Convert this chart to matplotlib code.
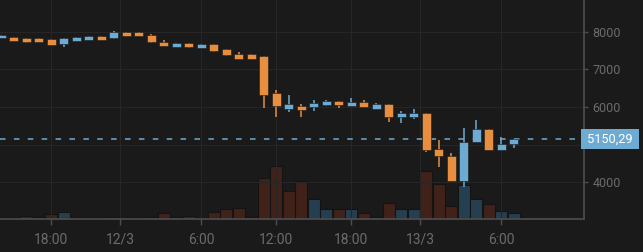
import matplotlib
matplotlib.use("Agg")
import matplotlib.pyplot as plt
import matplotlib.transforms as mtransforms
import numpy as np

plt.rcParams['font.family'] = ['Roboto', 'DejaVu Sans']
plt.rcParams['lines.scale_dashes'] = False

# hourly candles, hours counted from 12/3 00:00
first_hour = -10
opens  = [7825, 7851, 7825, 7825, 7798, 7681, 7761, 7787, 7886, 7825,
          7992, 7992, 7920, 7726, 7594, 7692, 7559, 7665, 7532, 7400,
          7400, 7363, 6372, 5955, 6034, 5992, 6053, 6167, 6027, 6133,
          5955, 6072, 5726, 5726, 5841, 4876, 4706, 4035, 5062, 5408,
          4858, 5009]
closes = [7920, 7753, 7726, 7726, 7655, 7825, 7851, 7886, 7787, 7984,
          7894, 7894, 7726, 7628, 7692, 7594, 7665, 7495, 7389, 7283,
          7283, 6327, 6027, 6080, 5920, 6106, 6167, 6053, 6133, 5992,
          6072, 5726, 5841, 5841, 4858, 4706, 4035, 5078, 5408, 4858,
          5009, 5150.29]
highs  = [7920, 7867, 7841, 7835, 7798, 7841, 7851, 7886, 7886, 8011,
          7992, 7992, 7939, 7779, 7692, 7692, 7665, 7665, 7532, 7469,
          7400, 7363, 6444, 6319, 6080, 6178, 6186, 6167, 6239, 6186,
          6106, 6072, 5886, 5947, 5841, 5123, 4778, 5442, 5647, 5424,
          5211, 5150.29]
lows   = [7825, 7753, 7708, 7726, 7655, 7602, 7761, 7787, 7787, 7798,
          7894, 7894, 7708, 7628, 7594, 7575, 7559, 7469, 7363, 7283,
          7283, 5973, 5742, 5867, 5734, 5902, 6027, 5973, 6027, 5992,
          5955, 5602, 5575, 5673, 4805, 4414, 4035, 3883, 5062, 4858,
          4858, 4919]
volumes = [0.3, 0.7, 3.0, 1.7, 4.3, 7.0, 0.7, 0.7, 0.3, 1.7,
           0.7, 0.7, 2.0, 5.7, 2.0, 3.0, 0.7, 7.0, 9.3, 10.7,
           1.7, 40.7, 53.0, 28.0, 38.0, 19.3, 9.7, 9.7, 9.7, 5.7,
           1.7, 16.0, 9.7, 9.7, 48.0, 34.3, 13.0, 33.3, 19.3, 14.7,
           8.0, 5.7]
vol_up = [1, 0, 0, 0, 0, 1, 1, 1, 0, 1,
          0, 0, 0, 0, 1, 0, 1, 0, 0, 0,
          0, 0, 0, 0, 0, 1, 1, 0, 1, 0,
          1, 0, 1, 1, 0, 0, 0, 1, 1, 0,
          1, 1]

tick_pos = [-6, -0.47, 6, 12, 18, 23.53, 30]
tick_labels = ['18:00', '12/3', '6:00', '12:00', '18:00', '13/3', '6:00']
price_ticks = [4000, 5000, 6000, 7000, 8000]
# 5000 sits behind the last-price box
price_labels = ['4000', '', '6000', '7000', '8000']

bg = '#1a1a1a'
up_col = '#6eabd3'
down_col = '#e88e40'
vol_up_col = '#263f50'
vol_down_col = '#40221a'
grid_col = '#262626'
text_col = '#6b6b6b'
spine_col = '#4e4e4e'

x = np.arange(len(opens)) + first_hour
o = np.array(opens)
c = np.array(closes)
up = c >= o

fig = plt.figure(figsize=(6.43, 2.52), dpi=100, facecolor=bg)
rect = [0, 0.1321, 0.9082, 0.8679]

# volume axis underneath
axv = fig.add_axes(rect)
axv.set_facecolor(bg)
vcols = [vol_up_col if u else vol_down_col for u in vol_up]
axv.bar(x, volumes, width=0.93, color=vcols, edgecolor='#141414', linewidth=0.8)
axv.set_ylim(0, max(volumes) * 218.7 / 53.0)
axv.set_xlim(-10.1, 36.62)
axv.axis('off')

# price axis on top
ax = fig.add_axes(rect)
ax.patch.set_visible(False)
ax.set_xlim(-10.1, 36.62)
ax.set_ylim(3033, 8842)

for yv in price_ticks:
    ax.axhline(yv, color=grid_col, lw=0.8, zorder=0)
for xv in tick_pos:
    ax.axvline(xv, color=grid_col, lw=0.8, zorder=0)

cols = np.where(up, up_col, down_col)
ax.vlines(x, lows, highs, colors=cols, linewidth=1.1, zorder=3)
body_h = np.maximum(np.abs(c - o), 20)
ax.bar(x, body_h, bottom=np.minimum(o, c), width=0.72, color=cols,
       edgecolor='#1a1a1a', linewidth=0.4, zorder=4)

last = closes[-1]
ax.axhline(last, color=up_col, lw=1.1, dashes=(4, 6), zorder=2)

for s in ['left', 'top']:
    ax.spines[s].set_visible(False)
for s in ['right', 'bottom']:
    ax.spines[s].set_color(spine_col)
    ax.spines[s].set_linewidth(1.2)

ax.yaxis.tick_right()
ax.set_yticks(price_ticks)
ax.set_yticklabels(price_labels)
ax.tick_params(axis='y', colors=spine_col, labelcolor=text_col, labelsize=9,
               length=3, width=1, pad=3)
ax.set_xticks(tick_pos)
ax.set_xticklabels(tick_labels)
ax.tick_params(axis='x', colors=spine_col, labelcolor=text_col, labelsize=10,
               length=4, width=1, pad=6)

trans = mtransforms.blended_transform_factory(ax.transAxes, ax.transData)
ax.text(1.0, last, ' ' + f'{last:.2f}'.replace('.', ',') + ' ', transform=trans,
        ha='left', va='center', color='white', fontsize=9.2, zorder=10,
        bbox=dict(boxstyle='square,pad=0.25', fc=up_col, ec='none'),
        clip_on=False)

fig.savefig('out.png', dpi=100, facecolor=bg)
